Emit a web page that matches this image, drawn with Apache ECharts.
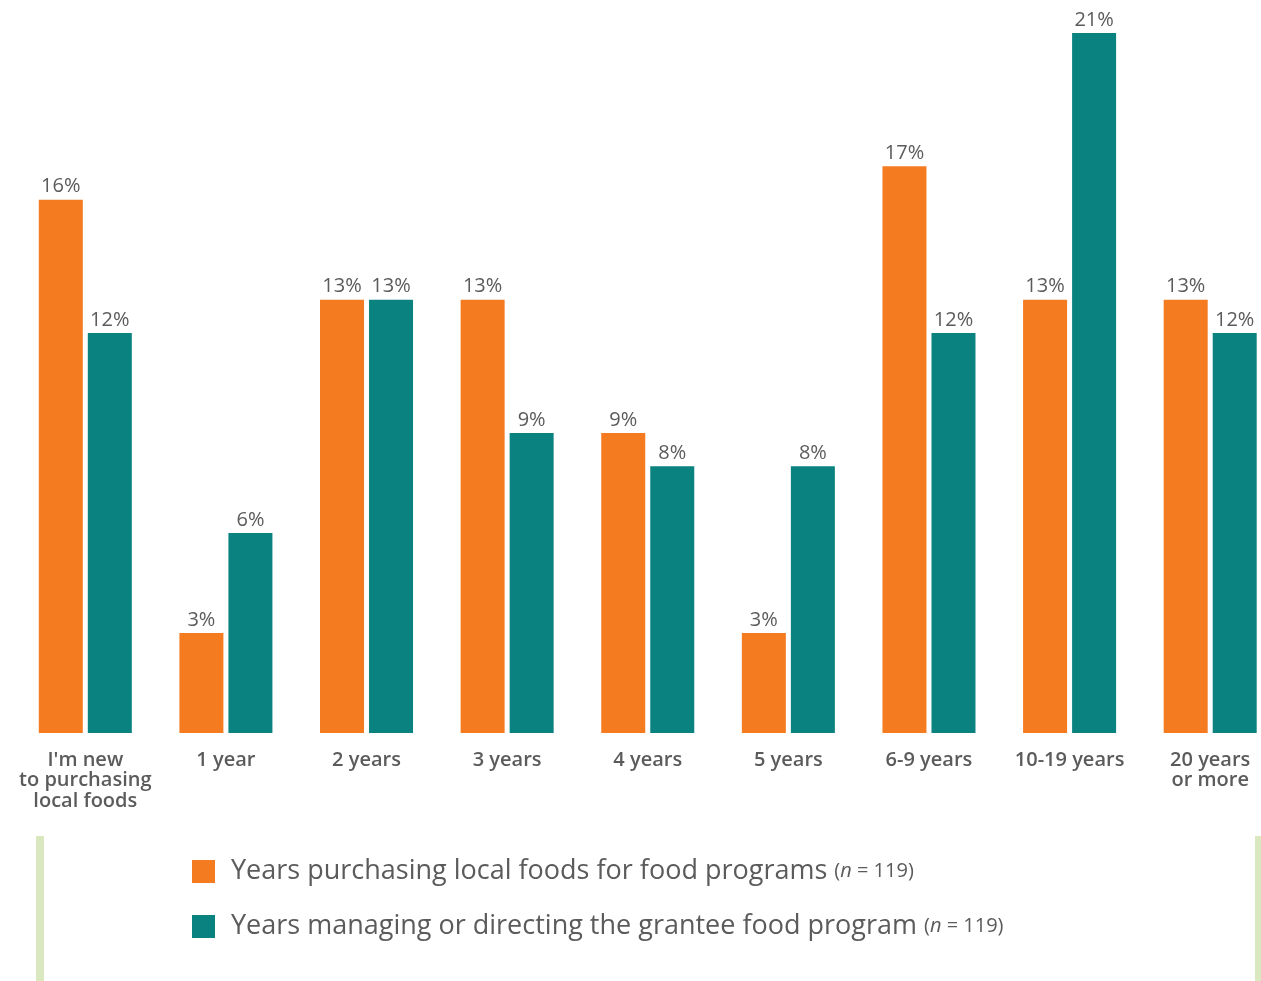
<!DOCTYPE html>
<html><head><meta charset="utf-8">
<script src="https://cdn.jsdelivr.net/npm/echarts@6/dist/echarts.min.js"></script>
<style>html,body{margin:0;padding:0;background:#fff}#c{width:1261px;height:981px}</style>
</head><body><div id="c"></div>
<script>
const categories = ["I'm new\nto purchasing\nlocal foods", "1 year", "2 years", "3 years", "4 years", "5 years", "6-9 years", "10-19 years", "20 years\nor more"];
const purchasing = [16, 3, 13, 13, 9, 3, 17, 13, 13];
const managing = [12, 6, 13, 9, 8, 8, 12, 21, 12];
const seriesNames = ["Years purchasing local foods for food programs", "Years managing or directing the grantee food program"];
const sampleN = [119, 119];

const FONT = 'Open Sans';
const chart = echarts.init(document.getElementById('c'));
const labelCfg = {show: true, position: 'top', distance: 3, formatter: '{c}%', color: '#5b5b5b', fontSize: 20, fontFamily: FONT};
chart.setOption({
  animation: false,
  grid: {left: 15, top: 33, right: -19.5, height: 700, containLabel: false, outerBoundsMode: 'none'},
  xAxis: {type: 'category', data: categories, axisLine: {show: false}, axisTick: {show: false},
    axisLabel: {color: '#5b5b5b', fontSize: 20, fontWeight: 600, fontFamily: FONT, lineHeight: 20.5, margin: 17, interval: 0}},
  yAxis: {type: 'value', min: 0, max: 21, show: false, splitLine: {show: false}},
  legend: {orient: 'vertical', left: 187, top: 853, itemWidth: 23, itemHeight: 23, itemGap: 28, icon: 'rect',
    data: seriesNames,
    formatter: function(name){ const i = seriesNames.indexOf(name); return '{a|' + name + ' }{b|(}{i|n}{b| = ' + sampleN[i] + ')}'; },
    textStyle: {padding: [0,0,0,11], rich: {
      a: {fontSize: 27, lineHeight: 30, color: '#5b5b5b', fontFamily: FONT},
      b: {fontSize: 20, lineHeight: 30, color: '#5b5b5b', fontFamily: FONT},
      i: {fontSize: 20, lineHeight: 30, color: '#5b5b5b', fontFamily: FONT, fontStyle: 'italic'}}}},
  graphic: [
    {type: 'rect', left: 36, top: 836, shape: {width: 8, height: 145}, style: {fill: '#d9e8bf'}},
    {type: 'rect', left: 1255, top: 836, shape: {width: 6, height: 145}, style: {fill: '#d9e8bf'}}
  ],
  series: [
    {name: seriesNames[0], type: 'bar', data: purchasing, barWidth: 44, barGap: '11.4%', itemStyle: {color: '#f47b20'}, label: labelCfg},
    {name: seriesNames[1], type: 'bar', data: managing, barWidth: 44, itemStyle: {color: '#0a8280'}, label: labelCfg}
  ]
});
</script></body></html>
